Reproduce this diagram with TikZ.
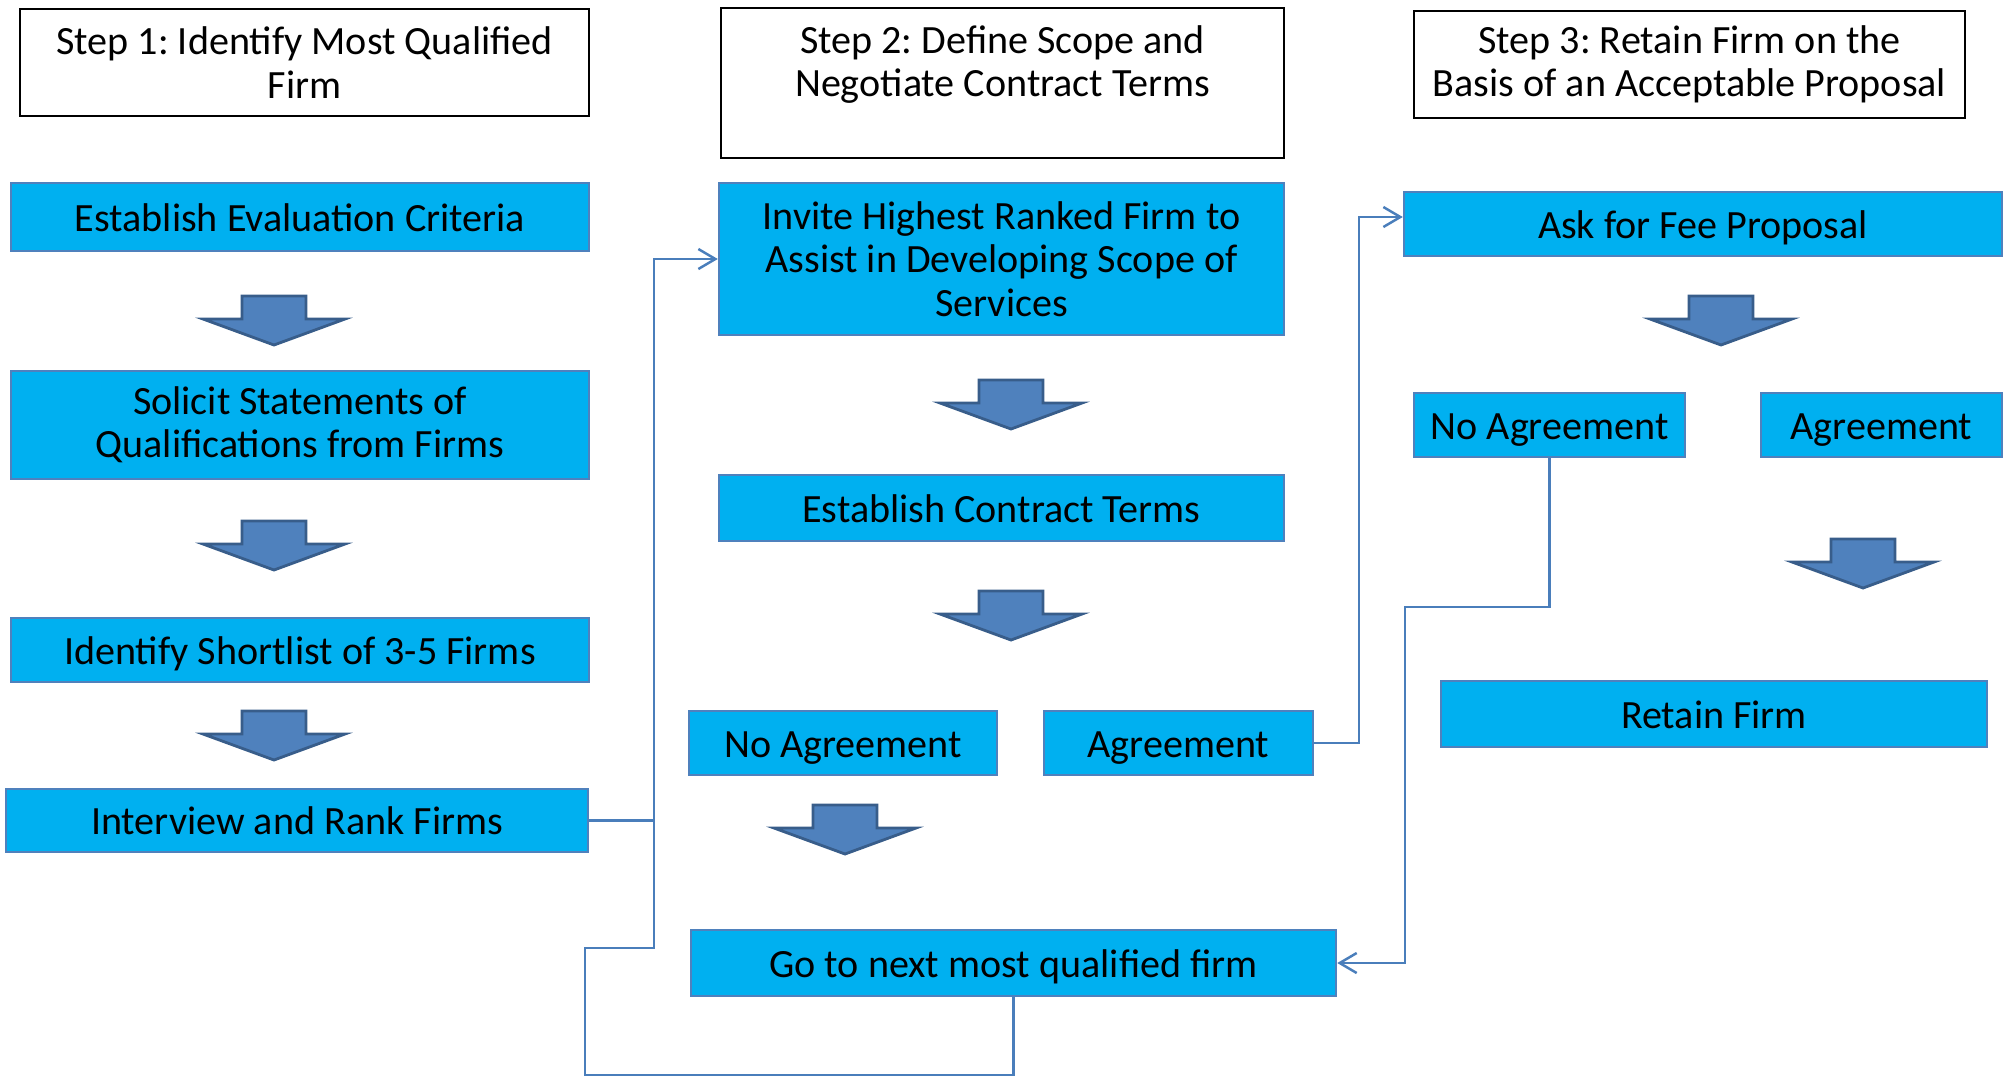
\documentclass[tikz,border=0pt]{standalone}
\usepackage{fontspec}
\setmainfont{Carlito}
\usetikzlibrary{arrows.meta}
\definecolor{boxfill}{HTML}{00B0F0}
\definecolor{boxedge}{HTML}{4F81BD}
\definecolor{arrowfill}{HTML}{4F81BD}
\definecolor{arrowedge}{HTML}{385D8A}
\definecolor{linkblue}{HTML}{4A7EBB}
\frenchspacing

\begin{document}
\begin{tikzpicture}[x=0.01cm, y=-0.01cm,
    every node/.style={font=\fontsize{11.4}{12.3}\selectfont, align=center, inner sep=0pt},
    headbox/.style={draw=black, line width=0.6pt, fill=white},
    taskbox/.style={draw=boxedge, line width=0.6pt, fill=boxfill},
    taskline/.style={taskbox, text height=1.1em, text depth=0.3em},
    link/.style={draw=linkblue, line width=0.7pt},
    linkto/.style={link, -{Straight Barb[length=0.17cm, width=0.2cm]}},
    blockarrow/.style={fill=arrowfill, draw=arrowedge, line width=0.8pt}]
    \useasboundingbox (0,0) rectangle (2007,1078);

    % step headings
    \node[headbox, minimum width=5.69cm, minimum height=1.07cm] (step1) at (304.5,62.5)
        {Step 1: Identify Most Qualified\\Firm};
    \node[headbox, minimum width=5.63cm, minimum height=1.5cm] (step2) at (1002.5,83)
        {Step 2: Define Scope and\\Negotiate Contract Terms\\\mbox{}};
    \node[headbox, minimum width=5.51cm, minimum height=1.07cm] (step3) at (1689.5,64.5)
        {Step 3: Retain Firm on the\\Basis of an Acceptable Proposal};

    % step 1
    \node[taskline, minimum width=5.78cm, minimum height=0.68cm] (criteria) at (300,217)
        {Establish Evaluation Criteria};
    \node[taskbox, minimum width=5.78cm, minimum height=1.08cm] (solicit) at (300,425)
        {Solicit Statements of\\Qualifications from Firms};
    \node[taskline, minimum width=5.78cm, minimum height=0.64cm] (shortlist) at (300,650)
        {Identify Shortlist of 3-5 Firms};
    \node[taskline, minimum width=5.82cm, minimum height=0.63cm] (interview) at (297,820.5)
        {Interview and Rank Firms};

    % step 2
    \node[taskbox, minimum width=5.65cm, minimum height=1.52cm] (invite) at (1001.5,259)
        {Invite Highest Ranked Firm to\\Assist in Developing Scope of\\Services};
    \node[taskline, minimum width=5.65cm, minimum height=0.66cm] (terms) at (1001.5,508)
        {Establish Contract Terms};
    \node[taskline, minimum width=3.08cm, minimum height=0.64cm] (noagree) at (843,743)
        {No Agreement};
    \node[taskline, minimum width=2.69cm, minimum height=0.64cm] (agree) at (1178.5,743)
        {Agreement};
    \node[taskline, minimum width=6.45cm, minimum height=0.66cm] (nextfirm) at (1013.5,963)
        {Go to next most qualified firm};

    % step 3
    \node[taskline, minimum width=5.98cm, minimum height=0.64cm] (fee) at (1703,224)
        {Ask for Fee Proposal};
    \node[taskline, minimum width=2.71cm, minimum height=0.64cm] (noagreeb) at (1549.5,425)
        {No Agreement};
    \node[taskline, minimum width=2.41cm, minimum height=0.64cm] (agreeb) at (1881.5,425)
        {Agreement};
    \node[taskline, minimum width=5.46cm, minimum height=0.66cm] (retain) at (1714,714)
        {Retain Firm};

    % block arrows
    \foreach \x/\y in {274/296, 274/521, 274/711, 1011/380, 1011/591, 845/805, 1721/296, 1863/539}
        \draw[blockarrow, shift={(\x,\y)}]
            (-32,0) -- (32,0) -- (32,23) -- (71,23) -- (0,49) -- (-71,23) -- (-32,23) -- cycle;

    % connectors
    \coordinate (loopa) at (585,1075);
    \coordinate (loopb) at (654,948);
    \coordinate (loopc) at (1405,607);
    \draw[linkto] (interview.east) -- (loopb |- interview.east) |- (invite.west);
    \draw[link] (nextfirm.south) |- (loopa) |- (loopb) -- (loopb |- interview.east);
    \draw[linkto] (agree.east) -- ++(45,0) |- ([yshift=0.07cm]fee.west);
    \draw[linkto] (noagreeb.south) |- (loopc) |- (nextfirm.east);
\end{tikzpicture}
\end{document}
